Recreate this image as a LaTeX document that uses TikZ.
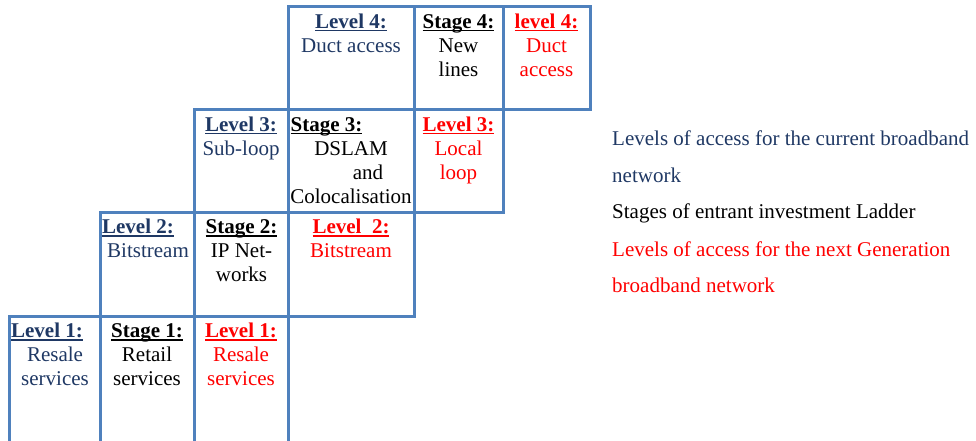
\documentclass[tikz,border=0pt]{standalone}
\usepackage{fontspec}
\setmainfont{Liberation Serif}
\usetikzlibrary{positioning}
\definecolor{gridblue}{RGB}{79,129,189}
\definecolor{navytxt}{RGB}{31,56,100}
\definecolor{ngred}{RGB}{255,0,0}
% bold heading with a thick underline
\newcommand{\hd}[1]{\setbox0\hbox{\textbf{#1}}\rlap{\rule[-3pt]{\wd0}{1.5pt}}\box0}
\tikzset{
  gridln/.style={draw=gridblue, line width=3pt, line cap=rect},
  cellt/.style ={anchor=base, align=center, inner sep=0pt,
                 font=\fontsize{21}{24}\selectfont},
  curlv/.style ={cellt, text=navytxt},
  stg/.style   ={cellt, text=black},
  nglv/.style  ={cellt, text=ngred},
  legt/.style  ={anchor=base west, inner sep=0pt,
                 font=\fontsize{21}{24}\selectfont},
}
\begin{document}
\begin{tikzpicture}[x=1pt, y=-1pt]
  \useasboundingbox (0,0) rectangle (976,441);
  % ---- the ladder grid
  \foreach \y/\xa/\xb in {7/288/590, 109.5/194/590, 212/100/503, 316/9.5/414}
    \draw[gridln] (\xa,\y) -- (\xb,\y);
  \foreach \x/\ya/\yb in {9.5/316/441, 100/212/441, 194/109.5/441, 288/7/441,
                          414/7/316, 503/7/212, 590/7/109.5}
    \draw[gridln] (\x,\ya) -- (\x,\yb);
  % ---- row 1 (base = last line)
  \node[curlv] (lv1) at (55,385.5)  {\hd{Level 1:}\hspace*{16pt}\\Resale\\services};
  \node[stg]   (st1) at (147,385.5) {\hd{Stage 1:}\\Retail\\services};
  \node[nglv]  (ng1) at (241,385.5) {\hd{Level 1:}\\Resale\\services};
  % ---- row 2
  \node[curlv] (lv2) at (148,257.5)   {\hd{Level 2:}\hspace*{20pt}\\Bitstream};
  \node[stg]   (st2) at (241.5,281.5) {\hd{Stage 2:}\\IP Net-\\works};
  \node[nglv]  (ng2) at (351,257.5)   {\hd{Level\ \ 2:}\\Bitstream};
  % ---- row 3
  \node[curlv] (lv3) at (241,155)   {\hd{Level 3:}\\Sub-loop};
  \node[stg]   (st3) at (351,203)
    {\hd{Stage 3:}\hspace*{49pt}\\DSLAM\\\hspace*{34pt}and\\Colocalisation};
  \node[nglv]  (ng3) at (458.5,179) {\hd{Level 3:}\\Local\\loop};
  % ---- row 4
  \node[curlv] (lv4) at (351,52.5)   {\hd{Level 4:}\\Duct access};
  \node[stg]   (st4) at (458.5,76.5) {\hd{Stage 4:}\\New\\lines};
  \node[nglv]  (ng4) at (546.5,76.5) {\hd{level 4:}\\Duct\\access};
  % ---- legend
  \node[legt, text=navytxt] (leg1a) at (612,145) {Levels of access for the current broadband};
  \node[legt, text=navytxt] (leg1b) at (612,182) {network};
  \node[legt]               (leg2)  at (612,218) {Stages of entrant investment Ladder};
  \node[legt, text=ngred]   (leg3a) at (612,256) {Levels of access for the next Generation};
  \node[legt, text=ngred]   (leg3b) at (612,292) {broadband network};
\end{tikzpicture}
\end{document}
